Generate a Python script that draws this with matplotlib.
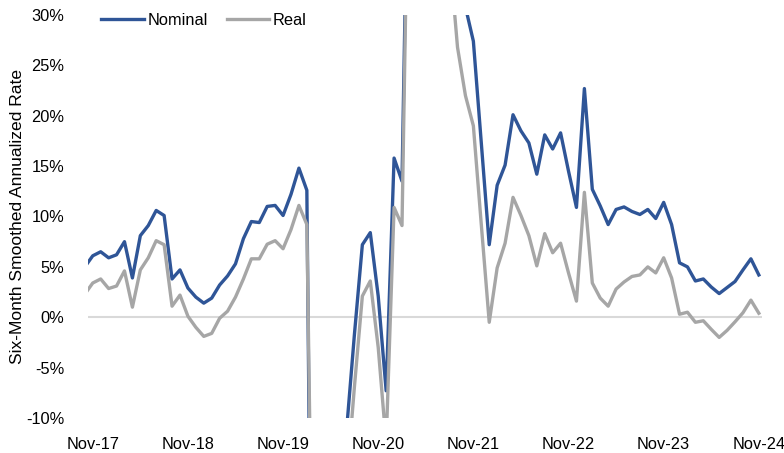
import numpy as np
import pandas as pd
import matplotlib
matplotlib.use("Agg")
import matplotlib.pyplot as plt

# monthly series, Oct-17 .. Nov-24 (first point sits just left of the plot edge)
months = pd.date_range("2017-10-01", "2024-11-01", freq="MS")

nominal = [5.0, 6.1, 6.5, 5.9, 6.2, 7.5, 3.9, 8.1, 9.1, 10.6, 10.1, 3.8,
           4.7, 2.9, 2.0, 1.4, 1.9, 3.2, 4.1, 5.3, 7.8, 9.5, 9.4, 11.0,
           11.1, 10.1, 12.2, 14.8, 12.6, -70.0, -55.0, -40.0, -25.0, -11.3, -1.7, 7.2,
           8.4, 2.1, -7.3, 15.8, 13.5, 58.0, 70.0, 65.0, 55.0, 45.0, 40.0, 36.0,
           30.8, 27.4, 17.3, 7.2, 13.1, 15.1, 20.1, 18.5, 17.3, 14.2, 18.1, 16.7,
           18.3, 14.5, 10.9, 22.7, 12.7, 11.05, 9.2, 10.7, 10.95, 10.5, 10.2, 10.7,
           9.8, 11.4, 9.2, 5.4, 5.0, 3.6, 3.8, 3.0, 2.35, 2.95, 3.55, 4.7,
           5.8, 4.2]

real = [2.3, 3.4, 3.8, 2.85, 3.1, 4.6, 1.0, 4.7, 5.9, 7.6, 7.2, 1.1,
        2.2, 0.1, -1.0, -1.9, -1.6, -0.1, 0.6, 2.0, 3.8, 5.8, 5.8, 7.25,
        7.6, 6.8, 8.7, 11.1, 9.2, -45.0, -50.0, -40.0, -30.0, -16.6, -6.9, 2.1,
        3.6, -3.0, -12.5, 10.9, 9.1, 56.0, 65.0, 60.0, 50.0, 42.0, 36.0, 26.8,
        22.0, 19.0, 9.2, -0.5, 4.9, 7.35, 11.9, 10.1, 8.1, 5.1, 8.3, 6.4,
        7.35, 4.4, 1.6, 12.4, 3.4, 1.9, 1.1, 2.8, 3.5, 4.05, 4.2, 5.0,
        4.4, 5.9, 3.9, 0.3, 0.5, -0.5, -0.35, -1.2, -2.0, -1.3, -0.45, 0.45,
        1.7, 0.4]

labels = [m.strftime("%b-%y") for m in months]
x = np.arange(len(months)) - 1   # Nov-17 -> 0

plt.rcParams["font.family"] = ["Liberation Sans", "DejaVu Sans"]
fs = 11.8

fig = plt.figure(figsize=(7.84, 4.53), dpi=100)
ax = fig.add_axes([88 / 784, 1 - 418 / 453, (762 - 88) / 784, (418 - 15) / 453])

ax.axhline(0, color="#d9d9d9", lw=1.5, zorder=1)
ax.plot(x, nominal, color="#2f5597", lw=2.4, label="Nominal", zorder=3)
ax.plot(x, real, color="#a6a6a6", lw=2.4, label="Real", zorder=4)

ax.set_xlim(-0.6, 84.4)
ax.set_ylim(-10, 30)
ax.set_yticks(np.arange(-10, 31, 5))
ax.set_yticklabels([f"{v}%" for v in range(-10, 31, 5)], fontsize=fs)

tick_pos = x[1::12]
ax.set_xticks(tick_pos)
ax.set_xticklabels([labels[i + 1] for i in tick_pos], fontsize=fs)
ax.tick_params(axis="both", length=0)
ax.tick_params(axis="y", pad=17)
ax.tick_params(axis="x", pad=14)

for s in ax.spines.values():
    s.set_visible(False)

ax.set_ylabel("Six-Month Smoothed Annualized Rate", fontsize=12.6, labelpad=1)

ax.legend(loc="upper left", bbox_to_anchor=(0.02, 1.005), ncol=2, frameon=False,
          fontsize=fs, handlelength=2.6, handletextpad=0.2, columnspacing=1.15,
          borderaxespad=0, borderpad=0)

fig.savefig("out.png", dpi=100)
